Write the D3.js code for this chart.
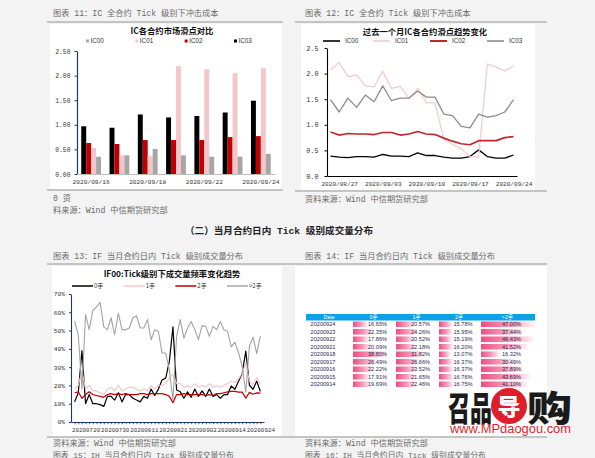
<!DOCTYPE html>
<html><head><meta charset="utf-8">
<script src="https://cdn.jsdelivr.net/npm/d3@7/dist/d3.min.js"></script>
<style>
html,body{margin:0;padding:0;background:#f3f3f3;overflow:hidden}
svg{display:block}
</style></head>
<body><svg id="page" width="595" height="458"></svg>
<script>
// ================= DATA =================
// Chart 11: IC bar comparison
const icDates = ["2020/09/16","2020/09/17","2020/09/18","2020/09/21","2020/09/22","2020/09/23","2020/09/24"];
const icSeries = ["IC00","IC01","IC02","IC03"];
const icBarIC00 = [0.35,0.38,0.51,0.38,0.35,0.35,0.41];
const icBarIC01 = [0.53,0.38,0.37,2.19,2.13,2.05,2.15];
const icBarIC02 = [0.63,0.61,0.69,0.69,0.69,0.75,0.77];
const icBarIC03 = [0.97,0.94,1.21,1.15,1.18,1.25,1.49];
const icBarTicks = [0,0.5,1,1.5,2,2.5];
const icBarXLabels = ["2020/09/16","2020/09/18","2020/09/22","2020/09/24"];

// Chart 12: IC slippage trend
const trendDates = ["2020/08/26","2020/08/27","2020/08/28","2020/08/31","2020/09/01","2020/09/02","2020/09/03","2020/09/04","2020/09/07","2020/09/08","2020/09/09","2020/09/10","2020/09/11","2020/09/14","2020/09/15","2020/09/16","2020/09/17","2020/09/18","2020/09/21","2020/09/22","2020/09/23","2020/09/24"];
const trendIC00 = [0.39,0.37,0.36,0.38,0.38,0.37,0.42,0.39,0.39,0.38,0.45,0.40,0.40,0.37,0.35,0.35,0.38,0.51,0.38,0.35,0.35,0.41];
const trendIC01 = [2.07,2.22,1.94,1.97,1.76,1.74,2.05,1.71,1.75,1.52,1.71,1.43,1.43,0.72,0.62,0.53,0.38,0.37,2.19,2.13,2.05,2.15];
const trendIC02 = [0.86,0.80,0.83,0.82,0.82,0.81,0.85,0.85,0.80,0.82,0.87,0.82,0.81,0.74,0.68,0.63,0.61,0.69,0.69,0.69,0.75,0.77];
const trendIC03 = [1.49,1.25,1.52,1.34,1.58,1.45,1.76,1.47,1.52,1.52,1.66,1.54,1.54,1.21,1.18,0.97,0.94,1.21,1.15,1.18,1.25,1.49];
const trendTicks = [0,0.5,1,1.5,2,2.5];
const trendXLabels = ["2020/08/27","2020/09/03","2020/09/10","2020/09/17","2020/09/24"];

// Chart 13: IF00 tick-level volume share (%)
const ifDates = ["20200715","20200716","20200717","20200720","20200721","20200722","20200723","20200724","20200727","20200728","20200729","20200730","20200731","20200803","20200804","20200805","20200806","20200807","20200810","20200811","20200812","20200813","20200814","20200817","20200818","20200819","20200820","20200821","20200824","20200825","20200826","20200827","20200828","20200831","20200901","20200902","20200903","20200904","20200907","20200908","20200909","20200910","20200911","20200914","20200915","20200916","20200917","20200918","20200921","20200922","20200923","20200924"];
const ifLot0 = [11,16,39,10,15,10,10,9.5,8.5,14,14,12,16,11,15,15,13,12,11,14,13,18,14.5,18,23,24,33,52,17.5,16.5,13,16.5,13.5,18,14,17,14,18,14,15,13,15,15,19.69,17.91,22.22,26.49,38.80,20.09,17.86,22.35,16.65];
const ifLot1 = [18,20,28,18,20,17,17,16,15,18,19,17,20,17,18,19,19,18,17,18,17,20,18,20,20,21,24,26,21,21,19,20,19,21,19,20,19,21,19,20,19,20,21,22.46,21.65,23.52,26.66,31.82,22.18,20.52,24.26,20.57];
const ifLot2 = [16,16.5,13,15,16.5,15,14.5,14,13.5,15,15.5,15,15.5,15,15.5,15,15,15,15.5,15.5,15,15.5,15.5,15.5,15.5,15,14,10.5,15,15,15.5,15,15,15,15,15,14.5,15,14.5,15.5,15.5,16,16.5,16.75,16.76,16.37,16.37,13.07,16.20,15.19,15.95,15.78];
const ifLotGt2 = [55,47.7,18,58.7,50.5,61,63,65.4,52,50.5,57,47.7,59.6,50.5,50.5,51.4,57,58,51.4,51.4,56,45,50.5,49.5,37.7,37.7,28.5,12,46.8,56,45.9,51.4,55,50.5,45,52.7,52.3,46.8,52.3,50.5,55,50.5,49.5,41.10,43.69,37.89,30.49,16.32,41.52,46.43,37.44,47.00];
const ifSeriesNames = ["0手","1手","2手",">2手"];
const ifTicks = [0,10,20,30,40,50,60,70];
const ifXLabels = ["20200720","20200730","20200811","20200821","20200902","20200914","20200924"];

// Chart 14: table
const tblHeader = ["Date","0手","1手","2手",">2手"];
const tblDates = ["20200924","20200923","20200922","20200921","20200918","20200917","20200916","20200915","20200914"];
const tblLot0 = [16.65,22.35,17.86,20.09,38.80,26.49,22.22,17.91,19.69];
const tblLot1 = [20.57,24.26,20.52,22.18,31.82,26.66,23.52,21.65,22.46];
const tblLot2 = [15.78,15.95,15.19,16.20,13.07,16.37,16.37,16.76,16.75];
const tblLotGt2 = [47.00,37.44,46.43,41.52,16.32,30.49,37.89,43.69,41.10];

// ================= DRAW =================
const svg = d3.select("#page");
const F_CAP = "'Liberation Mono','Noto Sans CJK SC',monospace";
const F_CJK = "'Noto Sans CJK SC','Liberation Sans',sans-serif";
const F_NUM = "'Liberation Mono',monospace";
const F_SANS = "'Liberation Sans','Noto Sans CJK SC',sans-serif";
const NAVY = "#203864";

svg.append("rect").attr("width",595).attr("height",458).attr("fill","#f3f3f3");

function txt(x,y,s,o={}){
  return svg.append("text").attr("x",x).attr("y",y).text(s)
    .attr("font-family",o.family||F_CAP).attr("font-size",o.size||8.2)
    .attr("fill",o.fill||"#6a6a6a").attr("text-anchor",o.anchor||"start")
    .attr("font-weight",o.weight||"normal");
}
function hline(x1,x2,y,c="#c4c4c4",w=2){
  svg.append("line").attr("x1",x1).attr("x2",x2).attr("y1",y).attr("y2",y)
    .attr("stroke",c).attr("stroke-width",w);
}
function panel(x,y,w,h){
  svg.append("rect").attr("x",x).attr("y",y).attr("width",w).attr("height",h).attr("fill","#ffffff");
}

// panels
panel(50,24,232,165);
panel(301,24,234,166);
panel(52,266,230,170);
panel(295,266,252,170);

// captions & rules
txt(53,16,"图表 11：IC 全合约 Tick 级别下冲击成本");
hline(47,283,22);
hline(47,283,190);
txt(53,201,"0 资");
txt(53,213,"料来源：Wind  中信期货研究部");

txt(305,16,"图表 12：IC 全合约 Tick 级别下冲击成本");
hline(295,547,22);
hline(295,547,191);
txt(305,202,"资料来源：Wind  中信期货研究部");

txt(279,234,"（二）当月合约日内 Tick 级别成交量分布",{size:9.6,fill:"#222",anchor:"middle",weight:"bold"});

txt(53,259,"图表 13：IF 当月合约日内 Tick 级别成交量分布");
txt(305,259,"图表 14：IF 当月合约日内 Tick 级别成交量分布");
hline(47,547,264);
hline(47,547,437);
txt(53,446,"资料来源：Wind  中信期货研究部");
txt(305,446,"资料来源：Wind  中信期货研究部");
txt(53,457.5,"图表 15：IH 当月合约日内 Tick 级别成交量分布",{size:7.8});
txt(305,457.5,"图表 16：IH 当月合约日内 Tick 级别成交量分布",{size:7.8});

// ---------- Chart 11 ----------
(function(){
  const g = svg.append("g");
  const x = d3.scaleBand().domain(icDates).range([77,275]).paddingInner(0.3).paddingOuter(0.15);
  const order = ["IC03","IC02","IC01","IC00"];
  const xs = d3.scaleBand().domain(order).range([0,x.bandwidth()]);
  const y = d3.scaleLinear().domain([0,2.5]).range([174,51]);
  const vals = {IC00:icBarIC00, IC01:icBarIC01, IC02:icBarIC02, IC03:icBarIC03};
  const col = {IC00:"#a6a6a6", IC01:"#f5c6c8", IC02:"#c00000", IC03:"#000000"};
  const bars = [];
  icDates.forEach((d,i)=>order.forEach(s=>bars.push({d,s,v:vals[s][i]})));
  g.selectAll("rect.b").data(bars).join("rect")
    .attr("x",b=>x(b.d)+xs(b.s)).attr("y",b=>y(b.v))
    .attr("width",xs.bandwidth()).attr("height",b=>y(0)-y(b.v)).attr("fill",b=>col[b.s]);
  const ya = g.append("g").attr("transform","translate(77,0)")
    .call(d3.axisLeft(y).tickValues(icBarTicks).tickFormat(d3.format(".2f")).tickSize(2.5).tickSizeOuter(0).tickPadding(4));
  ya.select(".domain").attr("stroke",NAVY).attr("stroke-width",1.2);
  ya.selectAll(".tick line").attr("stroke",NAVY);
  ya.selectAll("text").attr("font-family",F_NUM).attr("font-size",6.4).attr("fill","#333");
  const xa = g.append("g").attr("transform","translate(0,174)")
    .call(d3.axisBottom(x).tickValues(icBarXLabels).tickSize(0).tickPadding(6));
  xa.select(".domain").attr("stroke","#bfbfbf").attr("stroke-width",1);
  xa.selectAll("text").attr("font-family",F_NUM).attr("font-size",6.2).attr("fill","#333");
  g.append("text").attr("x",172).attr("y",34).attr("text-anchor","middle")
    .attr("font-family",F_CJK).attr("font-weight","bold").attr("font-size",8.3).attr("fill","#111")
    .text("IC各合约市场滑点对比");
  const lx = d3.scalePoint().domain(icSeries).range([86,234]);
  icSeries.forEach(s=>{
    g.append("rect").attr("x",lx(s)).attr("y",39.5).attr("width",3).attr("height",3).attr("fill",col[s]);
    g.append("text").attr("x",lx(s)+4.5).attr("y",43.3).attr("font-family",F_SANS).attr("font-size",6.3)
      .attr("fill","#333").text(s);
  });
})();

// ---------- Chart 12 ----------
(function(){
  const g = svg.append("g");
  const x = d3.scalePoint().domain(trendDates).range([327,517]).padding(0.4);
  const y = d3.scaleLinear().domain([0,2.5]).range([176,48]);
  const series = [
    {n:"IC00",v:trendIC00,c:"#000000",w:1.3},
    {n:"IC01",v:trendIC01,c:"#f2c9cb",w:1.2},
    {n:"IC02",v:trendIC02,c:"#c0262d",w:1.7},
    {n:"IC03",v:trendIC03,c:"#8c8c8c",w:1.3}
  ];
  const line = d3.line().x((d,i)=>x(trendDates[i])).y(d=>y(d));
  series.forEach(s=>g.append("path").attr("d",line(s.v)).attr("fill","none")
    .attr("stroke",s.c).attr("stroke-width",s.w).attr("stroke-linejoin","round"));
  const ya = g.append("g").attr("transform","translate(327,0)")
    .call(d3.axisLeft(y).tickValues(trendTicks).tickFormat(d3.format(".1f")).tickSize(2.5).tickSizeOuter(0).tickPadding(6));
  ya.select(".domain").attr("stroke","#000").attr("stroke-width",1.1);
  ya.selectAll("text").attr("font-family",F_NUM).attr("font-size",6.8).attr("fill","#333");
  const xa = g.append("g").attr("transform","translate(0,176)")
    .call(d3.axisBottom(x).tickValues(trendXLabels).tickSize(0).tickPadding(6));
  xa.select(".domain").attr("stroke","#000").attr("stroke-width",1.1);
  xa.selectAll("text").attr("font-family",F_NUM).attr("font-size",6.1).attr("fill","#333");
  g.append("text").attr("x",425).attr("y",35).attr("text-anchor","middle")
    .attr("font-family",F_CJK).attr("font-weight","bold").attr("font-size",8.3).attr("fill","#111")
    .text("过去一个月IC各合约滑点趋势变化");
  const lgx = [323,373,430,487];
  series.forEach((s,i)=>{
    g.append("line").attr("x1",lgx[i]).attr("x2",lgx[i]+17).attr("y1",41).attr("y2",41)
      .attr("stroke",s.c).attr("stroke-width",s.w+0.3);
    g.append("text").attr("x",lgx[i]+22).attr("y",43.3).attr("font-family",F_SANS).attr("font-size",6.3)
      .attr("fill","#333").text(s.n);
  });
})();

// ---------- Chart 13 ----------
(function(){
  const g = svg.append("g");
  const x = d3.scalePoint().domain(ifDates).range([71,264]).padding(1);
  const y = d3.scaleLinear().domain([0,70]).range([422,294]);
  const series = [
    {n:ifSeriesNames[0],v:ifLot0,c:"#000000",w:1.2},
    {n:ifSeriesNames[1],v:ifLot1,c:"#f6c4c8",w:1.1},
    {n:ifSeriesNames[2],v:ifLot2,c:"#c00000",w:1.2},
    {n:ifSeriesNames[3],v:ifLotGt2,c:"#a3a3a3",w:1.1}
  ];
  const line = d3.line().x((d,i)=>x(ifDates[i])).y(d=>y(d));
  series.forEach(s=>g.append("path").attr("d",line(s.v)).attr("fill","none")
    .attr("stroke",s.c).attr("stroke-width",s.w).attr("stroke-linejoin","round"));
  const ya = g.append("g").attr("transform","translate(71,0)")
    .call(d3.axisLeft(y).tickValues(ifTicks).tickFormat(d=>d+"%").tickSize(2).tickSizeOuter(0).tickPadding(4));
  ya.select(".domain").attr("stroke",NAVY).attr("stroke-width",1.1);
  ya.selectAll(".tick line").attr("stroke",NAVY);
  ya.selectAll("text").attr("font-family",F_NUM).attr("font-size",6.2).attr("fill","#333");
  const xa = g.append("g").attr("transform","translate(0,422)")
    .call(d3.axisBottom(x).tickValues(ifDates).tickFormat(d=>ifXLabels.includes(d)?d:"").tickSize(2.2).tickSizeOuter(0).tickPadding(4));
  xa.select(".domain").attr("stroke",NAVY).attr("stroke-width",1.1);
  xa.selectAll(".tick line").attr("stroke",NAVY).attr("stroke-width",0.8);
  xa.selectAll("text").attr("font-family",F_NUM).attr("font-size",5.9).attr("fill","#333");
  g.append("text").attr("x",172).attr("y",277).attr("text-anchor","middle")
    .attr("font-family",F_CJK).attr("font-weight","bold").attr("font-size",8.3).attr("fill","#111")
    .text("IF00:Tick级别下成交量频率变化趋势");
  const lx = d3.scalePoint().domain(ifSeriesNames).range([72,227]);
  series.forEach(s=>{
    g.append("line").attr("x1",lx(s.n)).attr("x2",lx(s.n)+21).attr("y1",286).attr("y2",286)
      .attr("stroke",s.c).attr("stroke-width",s.w+0.3);
    g.append("text").attr("x",lx(s.n)+22).attr("y",288.3).attr("font-family",F_CJK).attr("font-size",6)
      .attr("fill","#333").text(s.n);
  });
})();

// ---------- Chart 14 (table) ----------
(function(){
  const g = svg.append("g");
  const colEdges = [306,352,395,438,480,535];
  const cols = [tblLot0,tblLot1,tblLot2,tblLotGt2];
  const defs = svg.append("defs");
  const grad = defs.append("linearGradient").attr("id","dbar").attr("x1","0").attr("x2","1").attr("y1","0").attr("y2","0");
  grad.append("stop").attr("offset","0").attr("stop-color","#ec4f82");
  grad.append("stop").attr("offset","0.55").attr("stop-color","#f59ab8");
  grad.append("stop").attr("offset","1").attr("stop-color","#fff3f7");
  const rows = d3.scaleBand().domain(tblDates).range([320.5,388]);
  g.append("rect").attr("x",colEdges[0]).attr("y",314).attr("width",colEdges[5]-colEdges[0]).attr("height",6.5).attr("fill","#0aa2e6");
  tblHeader.forEach((h,i)=>{
    g.append("text").attr("x",(colEdges[i]+colEdges[i+1])/2).attr("y",319.3).attr("text-anchor","middle")
      .attr("font-family",F_SANS).attr("font-size",5.3).attr("fill","#ffffff").text(h);
  });
  const bw = d3.scaleLinear().domain([0,47]).range([0,1]);
  tblDates.forEach((d,r)=>{
    const cy = rows(d)+rows.bandwidth()/2;
    g.append("text").attr("x",323).attr("y",cy+2).attr("text-anchor","middle")
      .attr("font-family",F_SANS).attr("font-size",5.6).attr("fill","#1f2a55").text(d);
    cols.forEach((c,k)=>{
      const x0 = colEdges[k+1]+1, w = colEdges[k+2]-colEdges[k+1]-2;
      g.append("rect").attr("x",x0).attr("y",cy-2.8).attr("width",bw(c[r])*w).attr("height",5.6).attr("fill","url(#dbar)");
      g.append("text").attr("x",x0+w*0.5+4).attr("y",cy+2).attr("text-anchor","middle")
        .attr("font-family",F_SANS).attr("font-size",5.6).attr("fill","#1f2a55").text(c[r].toFixed(2)+"%");
    });
  });
})();

// ---------- watermark logo ----------
(function(){
  const g = svg.append("g");
  g.append("text").attr("x",448).attr("y",421).attr("font-family",F_CJK).attr("font-weight",900)
    .attr("font-size",34).attr("textLength",44).attr("lengthAdjust","spacingAndGlyphs").attr("fill","#1a1a1a").text("召品");
  g.append("circle").attr("cx",509).attr("cy",406).attr("r",18).attr("fill","#e11d2a");
  g.append("text").attr("x",509).attr("y",414.5).attr("text-anchor","middle").attr("font-family",F_CJK).attr("font-weight",900)
    .attr("font-size",23).attr("fill","#ffffff").text("导");
  g.append("text").attr("x",527).attr("y",422).attr("font-family",F_CJK).attr("font-weight",900)
    .attr("font-size",36).attr("textLength",45).attr("lengthAdjust","spacingAndGlyphs").attr("fill","#1a1a1a").text("购");
  g.append("text").attr("x",450).attr("y",433).attr("font-family",F_SANS).attr("font-size",12)
    .attr("textLength",121).attr("lengthAdjust","spacingAndGlyphs").attr("fill","#e01f2b").text("www.MPdaogou.com");
})();
</script>
</body></html>
